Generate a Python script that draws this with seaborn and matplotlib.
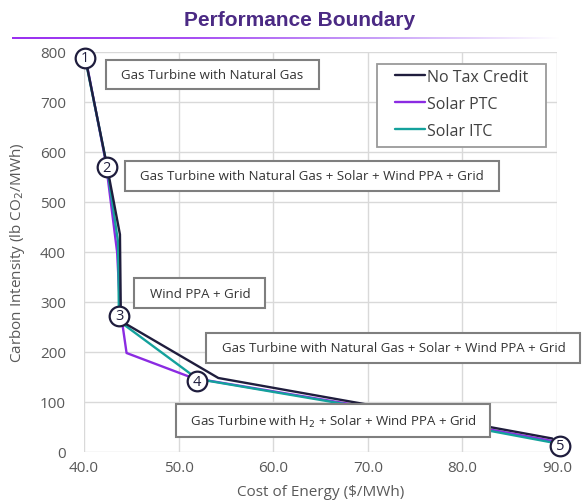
import matplotlib.pyplot as plt
import pandas as pd
import seaborn as sns
import numpy as np
from matplotlib.colors import LinearSegmentedColormap
from matplotlib.patches import Rectangle

series_names = ["No Tax Credit", "Solar PTC", "Solar ITC"]
notax_x = [40.2, 42.4, 43.8, 43.9, 54.2, 70.5, 89.5]
notax_y = [782, 575, 435, 262, 148, 93, 27]
ptc_x = [40.2, 42.3, 43.5, 43.8, 44.5, 51.5, 70.0, 89.5]
ptc_y = [785, 580, 400, 290, 198, 148, 90, 22]
itc_x = [40.2, 42.4, 43.6, 43.7, 52.0, 70.0, 89.5]
itc_y = [780, 575, 420, 262, 146, 88, 19]

marker_x = [40.1, 42.4, 43.7, 51.9, 90.3]
marker_y = [788, 570, 272, 142, 13]
marker_lbl = ["1", "2", "3", "4", "5"]

box_text = ["Gas Turbine with Natural Gas",
            "Gas Turbine with Natural Gas + Solar + Wind PPA + Grid",
            "Wind PPA + Grid",
            "Gas Turbine with Natural Gas + Solar + Wind PPA + Grid",
            "Gas Turbine with H$_2$ + Solar + Wind PPA + Grid"]
box_x = [43.2, 45.2, 46.2, 53.8, 50.6]
box_y = [755, 552, 318, 208, 63]

colors = {"No Tax Credit": "#1f1d3d", "Solar PTC": "#8b2be2", "Solar ITC": "#14a19c"}

df = pd.concat([
    pd.DataFrame({"x": notax_x, "y": notax_y, "s": "No Tax Credit"}),
    pd.DataFrame({"x": ptc_x, "y": ptc_y, "s": "Solar PTC"}),
    pd.DataFrame({"x": itc_x, "y": itc_y, "s": "Solar ITC"}),
])

sns.set_style("white")
plt.rcParams['font.family'] = ['Open Sans', 'DejaVu Sans']

fig = plt.figure(figsize=(5.87, 5.02), dpi=100)
ax = fig.add_axes([84/587, 49/502, 473/587, 400/502])

handles = {}
for name, z in [("Solar PTC", 3), ("Solar ITC", 4), ("No Tax Credit", 5)]:
    sub = df[df.s == name]
    sns.lineplot(data=sub, x="x", y="y", sort=False, ax=ax, color=colors[name],
                 linewidth=1.7, zorder=z, label=name, estimator=None)
    handles[name] = ax.lines[-1]

ax.scatter(marker_x, marker_y, s=200, facecolor="white", edgecolor="#1f1d3d",
           linewidth=1.6, zorder=10, clip_on=False)
for mx, my, ml in zip(marker_x, marker_y, marker_lbl):
    ax.text(mx, my, ml, ha="center", va="center", fontsize=10.5, color="#1f1d3d",
            zorder=11, clip_on=False)

for tx, bx, by in zip(box_text, box_x, box_y):
    ax.text(bx, by, "  " + tx + "  ", ha="left", va="center", fontsize=9.5, color="#333333",
            zorder=12, clip_on=False,
            bbox=dict(boxstyle="square,pad=0.62", facecolor="white", edgecolor="#7f7f7f",
                      linewidth=1.5))

ax.set_xlim(40, 90)
ax.set_ylim(0, 800)
ax.set_xticks(np.arange(40, 91, 10))
ax.set_xticklabels([f"{v:.1f}" for v in np.arange(40, 91, 10)])
ax.set_yticks(np.arange(0, 801, 100))
ax.grid(True, color="#d9d9d9", linewidth=1)
ax.set_axisbelow(True)
for s in ax.spines.values():
    s.set_visible(False)
ax.tick_params(axis="y", length=0, labelsize=11, labelcolor="#595959", pad=13)
ax.tick_params(axis="x", length=0, labelsize=11, labelcolor="#595959", pad=6)

ax.set_xlabel("Cost of Energy ($/MWh)", fontsize=11, color="#595959", labelpad=6)
ax.set_ylabel("Carbon Intensity (lb CO$_2$/MWh)", fontsize=11, color="#595959", labelpad=9)

leg = ax.legend([handles[n] for n in series_names], series_names, loc="upper left",
                bbox_to_anchor=((397 - 84) / 473 - 0.005, 1 - (70 - 53) / 400), fontsize=11.5,
                frameon=False, handlelength=1.9, handletextpad=0.1, labelspacing=0.68,
                borderpad=0.0, borderaxespad=0)
for t in leg.get_texts():
    t.set_color("#404040")
leg.set_zorder(20)
# legend frame
ax.add_patch(Rectangle((377/587, 1 - 148/502), (546 - 377)/587, (148 - 65)/502,
                       transform=fig.transFigure, facecolor="white", edgecolor="#9a9a9a",
                       linewidth=1.3, zorder=15, clip_on=False))

fig.text(300/587, 1 - 21/502, "Performance Boundary", ha="center", va="center",
         fontsize=15, fontweight="bold", color="#4b2a84", family="Liberation Sans")

# gradient rule under the title
gax = fig.add_axes([12/587, 1 - 40/502, 548/587, 2/502])
grad = np.linspace(0, 1, 256).reshape(1, -1)
cmap = LinearSegmentedColormap.from_list("g", ["#9a30f0", "#a850f3", "#c8a0f8", "#ffffff"])
gax.imshow(grad, aspect="auto", cmap=cmap)
gax.axis("off")

fig.savefig("out.png", dpi=100)
